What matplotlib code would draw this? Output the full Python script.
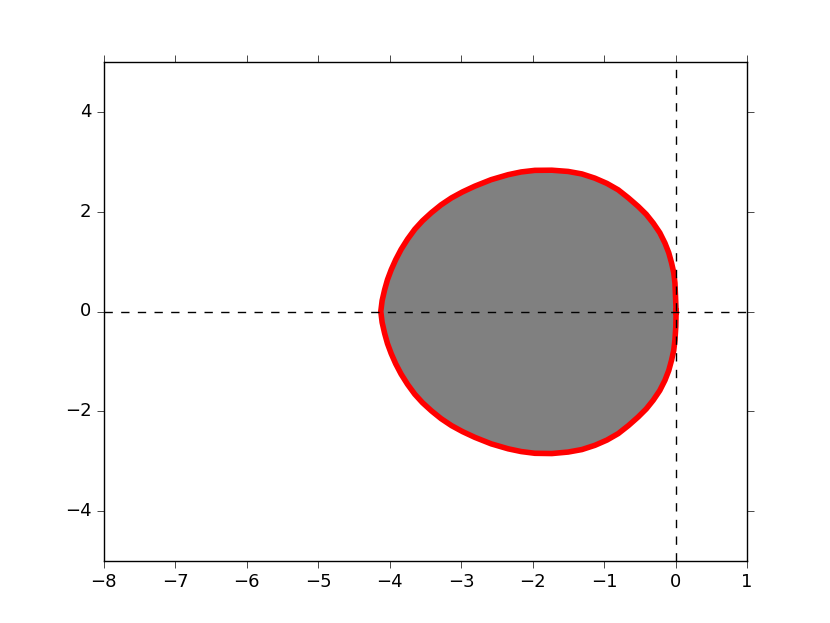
import matplotlib
matplotlib.use("Agg")
import matplotlib.pyplot as plt

# boundary of the region
# upper half, from the right end near x=0 round to the left end
upper_x = [0.008, 0.000, -0.008, -0.025, -0.055, -0.095, -0.148, -0.220,
           -0.312, -0.410, -0.522, -0.660, -0.802, -0.960, -1.128, -1.310,
           -1.502, -1.730, -1.968, -2.160, -2.342, -2.580, -2.808, -2.980,
           -3.134, -3.280, -3.414, -3.540, -3.648, -3.750, -3.840, -3.915,
           -3.978, -4.030, -4.070, -4.105, -4.124]
upper_y = [0.000, 0.300, 0.571, 0.780, 0.972, 1.180, 1.373, 1.580,
           1.774, 1.950, 2.108, 2.280, 2.441, 2.570, 2.675, 2.760,
           2.810, 2.835, 2.832, 2.800, 2.745, 2.645, 2.515, 2.400,
           2.280, 2.140, 1.985, 1.820, 1.650, 1.450, 1.245, 1.040,
           0.838, 0.640, 0.437, 0.220, 0.000]
# lower half, from the left end round to the right end near x=0
lower_x = [-4.105, -4.070, -4.030, -3.978, -3.915, -3.840, -3.750, -3.648,
           -3.540, -3.414, -3.280, -3.134, -2.980, -2.808, -2.580, -2.342,
           -2.160, -1.968, -1.730, -1.502, -1.310, -1.128, -0.960, -0.802,
           -0.660, -0.522, -0.410, -0.312, -0.220, -0.148, -0.095, -0.055,
           -0.025, -0.008, 0.004]
lower_y = [-0.220, -0.440, -0.645, -0.845, -1.050, -1.255, -1.460, -1.660,
           -1.830, -1.995, -2.150, -2.290, -2.410, -2.525, -2.655, -2.755,
           -2.810, -2.845, -2.850, -2.820, -2.770, -2.685, -2.580, -2.450,
           -2.290, -2.115, -1.955, -1.780, -1.585, -1.380, -1.185, -0.975,
           -0.780, -0.570, -0.300]

xlim = [-8, 1]
ylim = [-5, 5]

bx = upper_x + lower_x + upper_x[:1]
by = upper_y + lower_y + upper_y[:1]

plt.style.use('classic')
fig = plt.figure(figsize=(8.3, 6.23), dpi=100, facecolor='white')
ax = fig.add_subplot(111)

ax.fill(bx, by, color='gray', zorder=1)
ax.plot(bx, by, color='red', lw=4, solid_joinstyle='round', zorder=2)
ax.axhline(0, color='k', ls='--', lw=1, zorder=3)
ax.axvline(0, color='k', ls='--', lw=1, zorder=3)

ax.set_xlim(xlim)
ax.set_ylim(ylim)
ax.tick_params(direction='out', length=5, width=0.5, labelsize=13)
ax.tick_params(top=True, right=True)

fig.savefig('out.png', dpi=100, facecolor='white')
